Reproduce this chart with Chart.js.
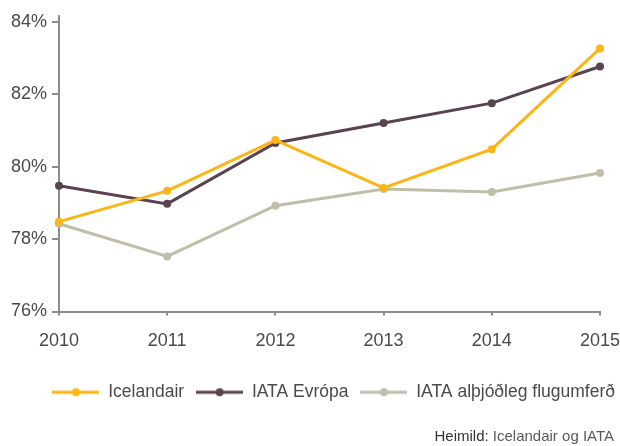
<!DOCTYPE html>
<html>
<head>
<meta charset="utf-8">
<script src="https://cdn.jsdelivr.net/npm/chart.js@4/dist/chart.umd.min.js"></script>
<style>
  html, body { margin: 0; padding: 0; background: #ffffff; }
  #wrap { width: 620px; height: 446px; position: relative; }
</style>
</head>
<body>
<div id="wrap"><canvas id="c" width="620" height="446"></canvas></div>
<script>
const years = ['2010', '2011', '2012', '2013', '2014', '2015'];
const icelandair = [78.48, 79.33, 80.73, 79.41, 80.48, 83.26];
const iataEurope = [79.47, 78.97, 80.65, 81.20, 81.75, 82.76];
const iataGlobal = [78.42, 77.52, 78.92, 79.38, 79.30, 79.82];
const seriesNames = ['Icelandair', 'IATA Evrópa', 'IATA alþjóðleg flugumferð'];
const yTicks = [76, 78, 80, 82, 84];
const sourceLabel = 'Heimild:';
const sourceText = 'Icelandair og IATA';

const colors = ['#FDB515', '#5A4350', '#BFBEA8'];
const FONT = "'Liberation Sans', Arial, sans-serif";
const TEXT = '#4a4a4a';
const AXIS = '#8c8c8c';

function legendIcon(color) {
  const cv = document.createElement('canvas');
  cv.width = 47; cv.height = 12;
  const g = cv.getContext('2d');
  g.strokeStyle = color; g.lineWidth = 3;
  g.beginPath(); g.moveTo(0, 6); g.lineTo(47, 6); g.stroke();
  g.fillStyle = color;
  g.beginPath(); g.arc(23.5, 6, 4, 0, Math.PI * 2); g.fill();
  return cv;
}
const icons = colors.map(legendIcon);

const sourcePlugin = {
  id: 'source',
  afterLayout(chart) {
    const lg = chart.legend;
    if (lg) { lg.left += 7; lg.right += 7; }
  },
  afterDraw(chart) {
    const ctx = chart.ctx;
    ctx.save();
    ctx.font = '15px ' + FONT;
    ctx.textBaseline = 'middle';
    ctx.textAlign = 'right';
    const xr = 614, y = 437;
    ctx.fillStyle = '#5a5a5a';
    ctx.fillText(sourceText, xr, y);
    const w = ctx.measureText(' ' + sourceText).width;
    ctx.fillStyle = '#333333';
    ctx.fillText(sourceLabel, xr - w, y);
    ctx.restore();
  }
};

function makeDataset(label, data, color) {
  return {
    label, data,
    borderColor: color, backgroundColor: color,
    pointBackgroundColor: color, pointBorderColor: color,
    borderWidth: 3, pointRadius: 4, pointBorderWidth: 0,
    tension: 0, fill: false
  };
}

new Chart(document.getElementById('c'), {
  type: 'line',
  data: {
    labels: years,
    datasets: [
      makeDataset(seriesNames[0], icelandair, colors[0]),
      makeDataset(seriesNames[1], iataEurope, colors[1]),
      makeDataset(seriesNames[2], iataGlobal, colors[2])
    ]
  },
  options: {
    responsive: false,
    animation: false,
    devicePixelRatio: 1,
    layout: { padding: { left: 0, right: 0, top: 15, bottom: 35 } },
    plugins: {
      tooltip: { enabled: false },
      legend: {
        position: 'bottom',
        align: 'end',
        labels: {
          usePointStyle: true,
          pointStyleWidth: 47,
          padding: 12,
          color: TEXT,
          font: { family: FONT, size: 17.5 },
          generateLabels(chart) {
            const items = Chart.defaults.plugins.legend.labels.generateLabels(chart);
            items.forEach((it, i) => { it.pointStyle = icons[i]; });
            return items;
          }
        }
      }
    },
    scales: {
      x: {
        offset: false,
        grid: { display: true, drawOnChartArea: false, drawTicks: true, tickLength: 4, color: AXIS, lineWidth: 2 },
        border: { display: true, color: AXIS, width: 2 },
        ticks: { color: TEXT, font: { family: FONT, size: 18 }, padding: 15, maxRotation: 0, autoSkip: false },
        afterFit(scale) { scale.height = 60; scale.paddingRight = 20; }
      },
      y: {
        min: 76, max: 84.16,
        grid: { display: true, drawOnChartArea: false, drawTicks: true, tickLength: 7, color: AXIS, lineWidth: 2 },
        border: { display: true, color: AXIS, width: 2 },
        ticks: { color: TEXT, font: { family: FONT, size: 18 }, padding: 5, callback: v => v + '%' },
        afterBuildTicks(scale) { scale.ticks = yTicks.map(v => ({ value: v })); },
        afterFit(scale) { scale.width = 59; }
      }
    }
  },
  plugins: [sourcePlugin]
});
</script>
</body>
</html>
